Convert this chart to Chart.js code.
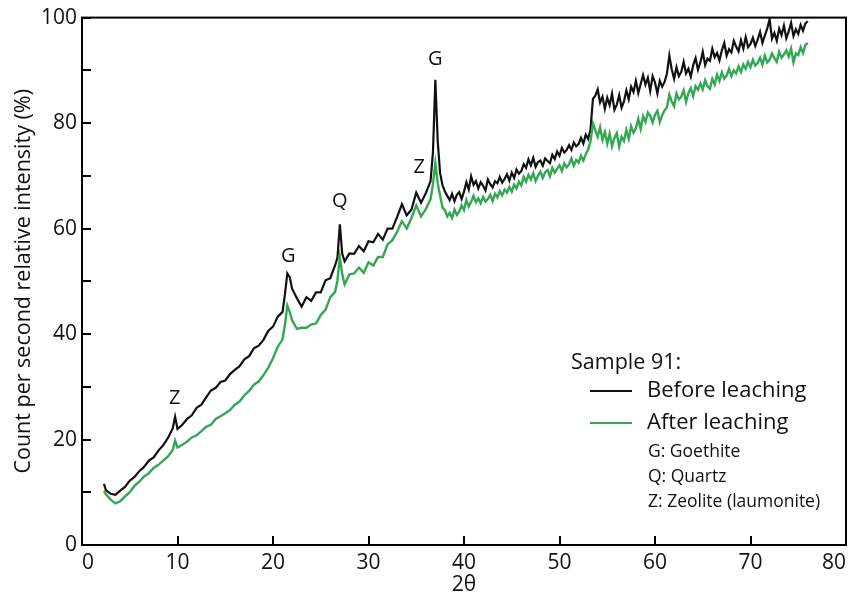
<!DOCTYPE html>
<html>
<head>
<meta charset="utf-8">
<script src="https://cdn.jsdelivr.net/npm/chart.js@4.4.1/dist/chart.umd.min.js"></script>
<style>
  html, body { margin: 0; padding: 0; background: #fff; }
  #wrap { width: 853px; height: 610px; position: relative; }
</style>
</head>
<body>
<div id="wrap"><canvas id="xrdChart"></canvas></div>
<script>
// XRD patterns, sample 91, before / after leaching

const twoTheta = [
  2.3, 2.5, 3.0, 3.5, 4.0, 4.5, 5.0, 5.5, 6.0, 6.5, 7.0, 7.5, 8.0, 8.5, 9.0, 9.5, 9.75, 10.0,
  10.5, 11.0, 11.5, 12.0, 12.5, 13.0, 13.5, 14.0, 14.5, 15.0, 15.5, 16.0, 16.5, 17.0, 17.5,
  18.0, 18.5, 19.0, 19.5, 20.0, 20.5, 21.0, 21.25, 21.5, 21.75, 22.0, 22.5, 23.0, 23.5, 24.0,
  24.5, 25.0, 25.5, 26.0, 26.5, 26.75, 27.0, 27.25, 27.5, 28.0, 28.5, 29.0, 29.5, 30.0, 30.5,
  31.0, 31.5, 32.0, 32.5, 33.0, 33.5, 34.0, 34.5, 35.0, 35.5, 36.0, 36.5, 36.75, 37.0, 37.25,
  37.5, 37.75,
  38.0, 38.25, 38.5, 38.75,  39.0, 39.25, 39.5, 39.75,  40.0, 40.25, 40.5, 40.75,
  41.0, 41.25, 41.5, 41.75,  42.0, 42.25, 42.5, 42.75,  43.0, 43.25, 43.5, 43.75,
  44.0, 44.25, 44.5, 44.75,  45.0, 45.25, 45.5, 45.75,  46.0, 46.25, 46.5, 46.75,
  47.0, 47.25, 47.5, 47.75,  48.0, 48.25, 48.5, 48.75,  49.0, 49.25, 49.5, 49.75,
  50.0, 50.25, 50.5, 50.75,  51.0, 51.25, 51.5, 51.75,  52.0, 52.25, 52.5, 52.75,
  53.0, 53.25, 53.5, 53.75,  54.0, 54.25, 54.5, 54.75,  55.0, 55.25, 55.5, 55.75,
  56.0, 56.25, 56.5, 56.75,  57.0, 57.25, 57.5, 57.75,  58.0, 58.25, 58.5, 58.75,
  59.0, 59.25, 59.5, 59.75,  60.0, 60.25, 60.5, 60.75,  61.0, 61.25, 61.5, 61.75,
  62.0, 62.25, 62.5, 62.75,  63.0, 63.25, 63.5, 63.75,  64.0, 64.25, 64.5, 64.75,
  65.0, 65.25, 65.5, 65.75,  66.0, 66.25, 66.5, 66.75,  67.0, 67.25, 67.5, 67.75,
  68.0, 68.25, 68.5, 68.75,  69.0, 69.25, 69.5, 69.75,  70.0, 70.25, 70.5, 70.75,
  71.0, 71.25, 71.5, 71.75,  72.0, 72.25, 72.5, 72.75,  73.0, 73.25, 73.5, 73.75,
  74.0, 74.25, 74.5, 74.75,  75.0, 75.25, 75.5, 75.75,  76.0
];

const beforeLeaching = [
  11.6, 10.4, 9.7, 9.5, 10.3, 11.0, 12.2, 12.9, 14.0, 14.8, 16.0, 16.6, 17.9, 18.9, 20.3, 22.1, 24.3, 22.0,
  22.8, 23.9, 24.6, 26.0, 26.6, 28.0, 29.3, 29.8, 30.9, 31.2, 32.4, 33.2, 33.9, 35.2, 35.8,
  37.3, 37.8, 38.9, 40.6, 41.4, 43.3, 44.2, 47.5, 51.5, 50.8, 48.6, 46.8, 45.2, 47.0, 46.3,
  47.9, 47.9, 50.2, 50.6, 53.0, 54.5, 60.8, 55.2, 53.8, 55.3, 55.2, 56.7, 55.7, 57.6, 57.4,
  59.0, 57.9, 60.0, 60.0, 62.2, 64.6, 62.5, 63.6, 66.8, 64.9, 66.7, 69.0, 74.5, 88.2, 76.5,
  70.5, 68.2,
  67.0, 66.2, 65.4, 66.6,  65.2, 66.4, 66.9, 65.6,  67.0, 68.8, 67.4, 69.9,
  68.3, 69.0, 67.6, 68.8,  68.1, 67.2, 69.3, 68.4,  67.8, 69.0, 68.6, 69.8,
  68.7, 69.4, 70.3, 69.1,  70.6, 69.6, 71.2, 70.4,  70.9, 72.2, 71.5, 73.1,
  72.0, 73.4, 71.7, 72.6,  72.9, 71.9, 73.3, 72.8,  72.4, 74.0, 73.2, 74.6,
  73.8, 75.3, 74.4, 74.9,  75.8, 74.9, 76.3, 75.6,  76.0, 77.2, 76.1, 77.8,
  77.0, 78.8, 84.6, 85.2,  86.4, 83.9, 85.0, 82.7,  84.8, 83.4, 85.6, 82.5,
  83.5, 85.3, 82.9, 84.1,  86.2, 84.5, 86.9, 85.9,  88.0, 85.7, 87.4, 89.1,
  87.3, 88.6, 86.1, 88.9,  87.7, 85.6, 88.0, 86.9,  87.8, 89.4, 92.8, 90.2,
  88.4, 90.6, 88.9, 89.7,  91.6, 89.4, 90.3, 88.8,  91.0, 92.3, 90.1, 91.5,
  93.5, 91.0, 92.2, 91.8,  94.1, 92.5, 93.3, 91.9,  93.8, 95.2, 92.8, 94.0,
  93.4, 95.6, 94.5, 93.6,  95.7, 94.1, 96.3, 94.4,  95.0, 96.2, 94.6, 95.8,
  97.3, 95.2, 96.6, 97.9,  99.7, 96.0, 97.1, 95.6,  97.9, 96.7, 98.5, 96.1,
  97.4, 99.0, 96.5, 97.8,  96.9, 98.6, 97.5, 98.9,  99.3
];

const afterLeaching = [
  10.3, 9.6, 8.6, 7.9, 8.3, 9.2, 10.0, 11.2, 12.0, 13.0, 13.6, 14.6, 15.2, 16.0, 16.8, 18.0, 19.8, 18.5,
  19.0, 19.6, 20.4, 20.8, 21.6, 22.4, 22.8, 23.9, 24.4, 25.0, 25.6, 26.6, 27.2, 28.4, 29.2,
  30.4, 31.0, 32.2, 33.6, 35.4, 37.6, 39.0, 41.8, 45.4, 44.2, 42.6, 41.0, 41.2, 41.2, 41.8,
  42.0, 43.6, 44.6, 47.0, 48.0, 50.2, 54.6, 51.4, 49.4, 51.3, 51.5, 52.6, 51.6, 53.6, 53.0,
  54.6, 54.6, 57.0, 57.8, 59.4, 61.4, 60.0, 62.0, 64.4, 62.3, 63.7, 65.6, 68.4, 72.4, 68.6,
  66.2, 64.0,
  63.5, 62.3, 63.0, 62.0,  63.6, 62.6, 63.2, 64.4,  63.5, 65.4, 64.2, 65.1,
  66.2, 65.0, 65.7, 64.8,  66.0, 65.1, 65.6, 66.4,  65.2, 66.6, 65.9, 67.1,
  66.3, 67.4, 66.8, 67.9,  67.0, 68.3, 67.6, 68.9,  68.2, 69.8, 68.9, 70.2,
  69.3, 70.5, 69.0, 70.0,  70.8, 69.6, 70.7, 71.1,  69.9, 71.5, 70.6, 71.3,
  72.0, 70.9, 72.4, 71.6,  72.2, 73.3, 71.9, 73.0,  72.5, 73.8, 72.9, 74.1,
  75.0, 76.6, 80.0, 78.6,  77.4, 79.2, 76.8, 78.3,  76.1, 78.0, 75.6, 77.2,
  78.1, 75.5, 77.4, 76.6,  78.7, 77.0, 79.4, 78.2,  79.0, 80.8, 78.9, 81.3,
  80.2, 82.0, 81.4, 80.1,  81.6, 82.3, 80.2, 81.5,  82.4, 83.0, 85.4, 84.1,
  83.2, 85.6, 84.5, 85.0,  86.2, 84.0, 85.7, 86.6,  85.1, 87.0, 86.3, 87.5,
  86.4, 88.1, 87.0, 86.5,  88.4, 87.3, 89.2, 88.0,  89.6, 88.4, 89.0, 90.3,
  88.9, 90.0, 89.4, 90.8,  89.7, 91.1, 90.3, 91.6,  90.6, 92.0, 90.9, 91.4,
  92.4, 91.1, 92.8, 91.5,  92.0, 93.2, 92.3, 91.6,  93.5, 92.4, 93.0, 93.8,
  92.6, 94.1, 91.5, 93.2,  92.9, 94.4, 93.3, 94.8,  95.2
];

// peak letters and where they sit (2θ, intensity)
const peakLetters = ['Z', 'G', 'Q', 'Z', 'G'];
const peakAngles = [9.7, 21.6, 27.0, 35.3, 37.0];
const peakLevels = [27.8, 54.8, 65.1, 71.7, 92.1];

const legendTitle = 'Sample 91:';
const seriesNames = ['Before leaching', 'After leaching'];
const phaseNotes = ['G: Goethite', 'Q: Quartz', 'Z: Zeolite (laumonite)'];

const BLACK = '#111111';
const GREEN = '#33a852';
const FONT = '"Open Sans", "DejaVu Sans", sans-serif';

const toPoints = (xs, ys) => xs.map((x, i) => ({ x: x, y: ys[i] }));

const frameAndNotes = {
  id: 'frameAndNotes',
  afterDraw(chart) {
    const ctx = chart.ctx;
    const a = chart.chartArea;
    const xs = chart.scales.x;
    const ys = chart.scales.y;
    ctx.save();

    // box + inward ticks
    ctx.strokeStyle = '#000';
    ctx.lineWidth = 2;
    ctx.strokeRect(a.left, a.top, a.right - a.left, a.bottom - a.top);
    ctx.beginPath();
    xs.ticks.forEach(t => {
      const px = Math.round(xs.getPixelForValue(t.value));
      ctx.moveTo(px, a.bottom);
      ctx.lineTo(px, a.bottom - 9);
    });
    ys.ticks.forEach(t => {
      const py = Math.round(ys.getPixelForValue(t.value));
      ctx.moveTo(a.left, py);
      ctx.lineTo(a.left + 9, py);
    });
    ctx.stroke();

    // peak letters
    ctx.fillStyle = '#111';
    ctx.font = '20px ' + FONT;
    ctx.textAlign = 'center';
    ctx.textBaseline = 'middle';
    peakLetters.forEach((s, i) => {
      ctx.fillText(s, xs.getPixelForValue(peakAngles[i]), ys.getPixelForValue(peakLevels[i]));
    });

    // legend
    ctx.textAlign = 'left';
    ctx.font = '21.5px ' + FONT;
    ctx.fillText(legendTitle, 571, 363);
    const colors = [BLACK, GREEN];
    ctx.font = '22px ' + FONT;
    seriesNames.forEach((s, i) => {
      const ly = 391 + i * 32;
      ctx.strokeStyle = colors[i];
      ctx.lineWidth = 2;
      ctx.beginPath();
      ctx.moveTo(590, ly);
      ctx.lineTo(632, ly);
      ctx.stroke();
      ctx.fillText(s, 647, ly);
    });
    ctx.font = '17.5px ' + FONT;
    phaseNotes.forEach((s, i) => {
      ctx.fillText(s, 648, 452 + i * 25);
    });
    ctx.restore();
  }
};

new Chart(document.getElementById('xrdChart'), {
  type: 'line',
  data: {
    datasets: [
      {
        label: seriesNames[0],
        data: toPoints(twoTheta, beforeLeaching),
        borderColor: BLACK,
        borderWidth: 2.2,
        pointRadius: 0,
        tension: 0,
        order: 2
      },
      {
        label: seriesNames[1],
        data: toPoints(twoTheta, afterLeaching),
        borderColor: GREEN,
        borderWidth: 2.4,
        pointRadius: 0,
        tension: 0,
        order: 1
      }
    ]
  },
  plugins: [frameAndNotes],
  options: {
    responsive: true,
    maintainAspectRatio: false,
    animation: false,
    layout: { padding: { top: 12, right: 7, left: 0, bottom: 0 } },
    plugins: {
      legend: { display: false },
      tooltip: { enabled: false }
    },
    scales: {
      x: {
        type: 'linear',
        min: 0,
        max: 80,
        grid: { display: false, drawTicks: false },
        border: { display: false },
        ticks: {
          stepSize: 10,
          align: 'inner',
          padding: 5,
          color: '#111',
          font: { family: FONT, size: 21 }
        },
        title: {
          display: true,
          text: '2θ',
          color: '#111',
          font: { family: FONT, size: 21 },
          padding: { top: 0, bottom: 12 }
        },
        afterFit: (scale) => { scale.height = 65; }
      },
      y: {
        min: 0,
        max: 100,
        grid: { display: false, drawTicks: false },
        border: { display: false },
        ticks: {
          stepSize: 10,
          padding: 5,
          color: '#111',
          font: { family: FONT, size: 21 },
          callback: (v) => (v % 20 === 0 ? v : '')
        },
        title: {
          display: true,
          text: 'Count per second relative intensity (%)',
          color: '#111',
          font: { family: FONT, size: 21.5 },
          padding: { top: 11, bottom: 0 }
        },
        afterFit: (scale) => { scale.width = 82; }
      }
    }
  }
});
</script>
</body>
</html>
